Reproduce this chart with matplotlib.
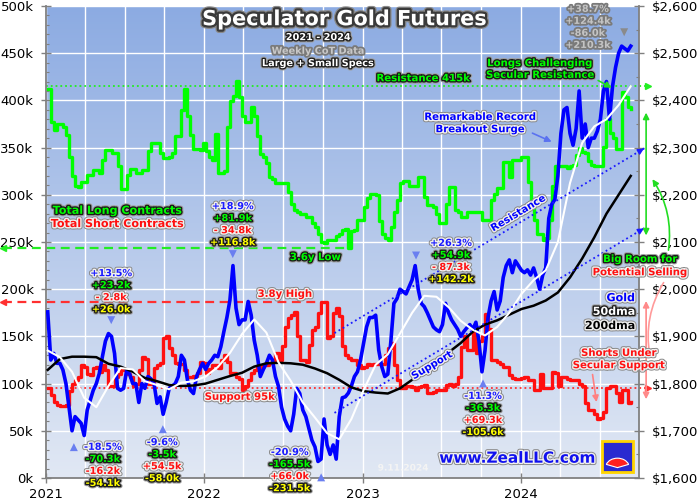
import matplotlib
matplotlib.use("Agg")
import matplotlib.pyplot as plt
import matplotlib.patheffects as pe
import matplotlib.ticker as mticker
import matplotlib.dates as mdates
from matplotlib.colors import LinearSegmentedColormap
from matplotlib.patches import Rectangle, Wedge
import numpy as np
import pandas as pd

# weekly CoT readings (Tuesdays), thousands of contracts
first_week = "2021-01-05"
longs_k = [
    412, 377, 369, 375, 375, 372, 363, 340, 320, 309,
    308, 314, 314, 321, 321, 326, 326, 323, 337, 347,
    347, 344, 344, 330, 306, 306, 321, 327, 327, 323,
    323, 326, 326, 346, 355, 355, 355, 344, 339, 339,
    340, 344, 362, 362, 390, 412, 383, 363, 348, 348,
    347, 355, 346, 340, 337, 364, 323, 323, 325, 372,
    399, 405, 421, 404, 383, 377, 377, 393, 383, 362,
    343, 340, 334, 319, 317, 313, 312, 312, 312, 303,
    290, 284, 282, 280, 280, 277, 277, 270, 266, 259,
    250, 249, 252, 252, 252, 256, 259, 263, 264, 244,
    262, 263, 273, 273, 287, 297, 301, 301, 300, 272,
    259, 254, 252, 266, 282, 295, 312, 315, 315, 309,
    309, 309, 319, 319, 298, 289, 289, 287, 280, 270,
    270, 290, 308, 308, 284, 282, 277, 277, 282, 282,
    282, 282, 282, 273, 273, 273, 294, 301, 307, 307,
    335, 335, 319, 337, 337, 337, 340, 340, 314, 290,
    273, 259, 259, 252, 254, 273, 309, 331, 330, 330,
    330, 328, 330, 332, 342, 350, 345, 344, 336, 332,
    330, 330, 330, 351, 380, 365, 360, 349, 349, 409,
    404, 393, 391,
]
shorts_k = [
    95, 88, 80, 77, 76, 76, 77, 92, 100, 104,
    107, 120, 118, 110, 109, 116, 118, 112, 120, 114,
    97, 97, 107, 110, 114, 114, 110, 107, 97, 100,
    114, 128, 126, 100, 100, 116, 120, 122, 148, 150,
    138, 130, 122, 121, 121, 114, 107, 107, 108, 111,
    123, 122, 111, 115, 120, 120, 117, 125, 130, 123,
    111, 111, 107, 105, 93, 97, 104, 111, 114, 118,
    116, 120, 120, 122, 125, 132, 125, 140, 160, 170,
    173, 176, 150, 125, 125, 123, 141, 157, 160, 175,
    186, 186, 148, 150, 175, 180, 172, 140, 130, 127,
    125, 125, 120, 116, 118, 121, 120, 121, 121, 121,
    121, 130, 138, 143, 120, 104, 95, 95, 97, 97,
    96, 93, 96, 97, 98, 90, 90, 91, 93, 93,
    93, 98, 100, 97, 100, 107, 139, 150, 136, 136,
    157, 132, 145, 150, 174, 158, 125, 125, 123, 121,
    118, 118, 109, 106, 105, 105, 106, 107, 104, 104,
    93, 93, 110, 95, 95, 95, 112, 111, 97, 107,
    107, 105, 104, 104, 104, 100, 97, 79, 72, 72,
    68, 63, 64, 70, 95, 97, 97, 90, 81, 93,
    93, 79, 80,
]
# gold futures near each CoT date
gold = [
    1952, 1850, 1864, 1843, 1843, 1829, 1800, 1750, 1700, 1730,
    1723, 1716, 1690, 1744, 1765, 1786, 1800, 1822, 1857, 1890,
    1906, 1900, 1864, 1790, 1786, 1790, 1829, 1820, 1800, 1800,
    1760, 1800, 1790, 1815, 1810, 1800, 1758, 1772, 1735, 1760,
    1790, 1795, 1800, 1815, 1860, 1850, 1808, 1786, 1779, 1815,
    1830, 1843, 1830, 1843, 1850, 1860, 1857, 1878, 1910, 1940,
    1977, 2050, 1960, 1925, 1935, 1935, 1974, 1945, 1892, 1860,
    1815, 1830, 1843, 1860, 1850, 1815, 1794, 1750, 1725, 1710,
    1700, 1735, 1790, 1779, 1744, 1730, 1705, 1680, 1666, 1635,
    1640, 1725, 1670, 1650, 1670, 1640, 1730, 1770, 1772, 1780,
    1795, 1815, 1825, 1850, 1885, 1920, 1940, 1940, 1945, 1871,
    1836, 1815, 1820, 1890, 1970, 1980, 2000, 1995, 1990, 2005,
    2020, 2050, 2000, 1970, 1963, 1950, 1935, 1920, 1914, 1910,
    1925, 1970, 1950, 1935, 1925, 1915, 1900, 1910, 1918, 1925,
    1915, 1930, 1890, 1825, 1870, 1940, 1975, 1995, 1956, 1975,
    2025, 2050, 2062, 2035, 2060, 2050, 2040, 2035, 2041, 2030,
    2045, 2025, 2000, 2030, 2045, 2150, 2180, 2190, 2240, 2330,
    2380, 2385, 2330, 2305, 2340, 2420, 2320, 2350, 2300, 2320,
    2320, 2335, 2360, 2420, 2440, 2360, 2430, 2470, 2500, 2515,
    2510, 2505, 2515,
]
# moving averages read every 4th week
ma_step = 4
gold_50dma = [
    1870, 1856, 1825, 1770, 1750, 1795, 1833, 1830, 1805, 1797,
    1788, 1802, 1805, 1815, 1835, 1865, 1905, 1936, 1908, 1845,
    1806, 1760, 1728, 1695, 1682, 1725, 1786, 1840, 1862, 1906,
    1950, 1986, 1984, 1962, 1933, 1914, 1902, 1920, 1950, 1990,
    2019, 2040, 2100, 2225, 2310, 2345, 2360, 2390, 2430,
]
gold_200dma = [
    1829, 1852, 1857, 1857, 1856, 1842, 1836, 1825, 1812, 1805,
    1797, 1795, 1796, 1800, 1808, 1816, 1823, 1836, 1843, 1844,
    1843, 1840, 1832, 1822, 1808, 1792, 1784, 1781, 1779, 1790,
    1808, 1826, 1847, 1866, 1886, 1910, 1925, 1934, 1946, 1958,
    1965, 1976, 1993, 2025, 2065, 2110, 2160, 2200, 2240,
]

resistance_k = 415
support_k = 95
channel_dates = ["2022-10-28", "2024-10-16"]
channel_upper = [1907, 2301]
channel_lower = [1738, 2132]

weeks = pd.date_range(first_week, periods=len(longs_k), freq="7D")
ma_weeks = weeks[::ma_step]

GREEN = "#00ff00"
RED = "#ff1010"
BLUE = "#0000ff"
MARK = "#6a7ff0"

DARK = [pe.Stroke(linewidth=3.4, foreground="#a0a0a0"),
        pe.Stroke(linewidth=1.9, foreground="#1a1a1a"), pe.Normal()]
LIGHT = [pe.Stroke(linewidth=3.4, foreground="#8a8a8a"),
         pe.Stroke(linewidth=2.0, foreground="#f0f0f0"), pe.Normal()]
GRAY = [pe.Stroke(linewidth=2.6, foreground="#7a7a7a"), pe.Normal()]
TITLE = [pe.Stroke(linewidth=5, foreground="#8a8a8a"),
         pe.Stroke(linewidth=3.2, foreground="#3a3a3a"), pe.Normal()]

fig = plt.figure(figsize=(7, 5), dpi=100)
ax = fig.add_axes([46 / 700, 22 / 500, 593 / 700, 472 / 500])
ax2 = ax.twinx()

# contracts
ax.plot(weeks, longs_k, drawstyle="steps-post", color=GREEN, lw=2.4, zorder=3)
ax.plot(weeks, shorts_k, drawstyle="steps-post", color=RED, lw=2.4, zorder=3)

# gold and its moving averages
ax2.plot(weeks, gold, color=BLUE, lw=2.6, zorder=3)
ax2.plot(ma_weeks, gold_200dma, color="black", lw=1.8, zorder=4)
ax2.plot(ma_weeks, gold_50dma, color="white", lw=1.5, zorder=4)

# reference lines
x_start = pd.Timestamp("2021-01-01")
x_end = pd.Timestamp("2024-09-29")
left_out = pd.Timestamp("2020-09-24")
right_out = pd.Timestamp("2024-10-19")

low_i = int(np.argmin(longs_k))
high_i = int(np.argmax(shorts_k))
ax.plot([left_out, weeks[low_i]], [longs_k[low_i]] * 2, ls=(0, (4, 2.5)),
        color="#22ee22", lw=1.6, clip_on=False, zorder=2)
ax.plot([left_out], [longs_k[low_i]], marker="<", ms=5, color="#22ee22",
        clip_on=False, zorder=2)
ax.plot([left_out, weeks[high_i]], [shorts_k[high_i]] * 2, ls=(0, (4, 2.5)),
        color="#ff3030", lw=1.6, clip_on=False, zorder=2)
ax.plot([left_out], [shorts_k[high_i]], marker="<", ms=5, color="#ff3030",
        clip_on=False, zorder=2)

ax.plot([x_start, right_out], [resistance_k] * 2, ls=":", color="#22ee22",
        lw=1.3, clip_on=False, zorder=2)
ax.plot([right_out], [resistance_k], marker=">", ms=5, color="#22ee22",
        clip_on=False, zorder=2)
ax.plot([x_start, right_out], [support_k] * 2, ls=":", color="#ff3030",
        lw=1.3, clip_on=False, zorder=2)
ax.plot([right_out], [support_k], marker=">", ms=5, color="#ff3030",
        clip_on=False, zorder=2)

# gold trend channel
cd = mdates.date2num(pd.to_datetime(channel_dates))
for chan in (channel_upper, channel_lower):
    ax2.plot(cd, chan, ls=":", color="#1a1aff", lw=1.3, clip_on=False, zorder=5)
    slope = (chan[1] - chan[0]) / (cd[1] - cd[0])
    ax2.annotate("", xy=(cd[1], chan[1]), xytext=(cd[1] - 20, chan[1] - 20 * slope),
                 arrowprops=dict(arrowstyle="-|>", color="#1a1aff", lw=1,
                                 mutation_scale=9),
                 annotation_clip=False, zorder=5)

# background gradient
grad = np.linspace(0, 1, 256).reshape(-1, 1)
cmap = LinearSegmentedColormap.from_list("bg", ["#e1e8f4", "#8cabe2"])
ax.imshow(grad, extent=[0, 1, 0, 1], transform=ax.transAxes, origin="lower",
          cmap=cmap, aspect="auto", zorder=0)

ax.set_xlim(x_start, x_end)
ax.set_ylim(0, 500)
ax2.set_ylim(1600, 2600)

# axes styling
ax.set_axisbelow(True)
ax.xaxis.set_major_locator(mdates.YearLocator())
ax.xaxis.set_major_formatter(mdates.DateFormatter("%Y"))
ax.xaxis.set_minor_locator(mdates.MonthLocator(bymonth=[4, 7, 10]))
ax.yaxis.set_major_locator(mticker.MultipleLocator(50))
ax.yaxis.set_minor_locator(mticker.MultipleLocator(10))
ax.yaxis.set_major_formatter(mticker.FuncFormatter(lambda v, p: f"{v:.0f}k"))
ax2.yaxis.set_major_locator(mticker.MultipleLocator(100))
ax2.yaxis.set_minor_locator(mticker.MultipleLocator(50))
ax2.yaxis.set_major_formatter(mticker.FuncFormatter(lambda v, p: f"${v:,.0f}"))

ax.grid(True, which="major", color="white", lw=1)
ax.grid(True, which="minor", axis="x", color="white", lw=1)

for a in (ax, ax2):
    a.tick_params(which="major", direction="inout", length=7, width=1,
                  color="#808080", labelsize=9.5)
    a.tick_params(which="minor", direction="in", length=2.5, width=0.8,
                  color="#808080")
ax.tick_params(axis="y", pad=5.5)
ax.tick_params(axis="x", pad=3.5)
ax.tick_params(axis="x", which="minor", length=0)
ax2.tick_params(axis="y", pad=5.5)

for name, sp in ax.spines.items():
    sp.set_visible(name in ("left", "bottom"))
    sp.set_color("#808080")
    sp.set_linewidth(1.3)
for name, sp in ax2.spines.items():
    sp.set_visible(name == "right")
    sp.set_color("#808080")
    sp.set_linewidth(1.3)


def note(x, y, s, color, size=7.3, edge=LIGHT, **kw):
    kw.setdefault("ha", "center")
    ax2.text(x, y, s, transform=ax.transAxes, color=color, fontsize=size,
             fontweight="bold", va="center", path_effects=edge, zorder=20, **kw)


def arrow(xy, xytext, color, style="-|>", rad=0.0, lw=1.2):
    ax2.annotate("", xy=xy, xytext=xytext, xycoords=ax.transAxes,
                 textcoords=ax.transAxes, annotation_clip=False, zorder=19,
                 arrowprops=dict(arrowstyle=style, color=color, lw=lw,
                                 mutation_scale=9,
                                 connectionstyle=f"arc3,rad={rad}"))


# title block
note(0.504, 0.972, "Speculator Gold Futures", "white", size=15, edge=TITLE)
note(0.459, 0.934, "2021 - 2024", "white", size=7, edge=DARK)
note(0.459, 0.905, "Weekly CoT Data", "#c8c8c8", size=7, edge=GRAY)
note(0.459, 0.879, "Large + Small Specs", "white", size=7, edge=DARK)

note(0.120, 0.566, "Total Long Contracts", GREEN, size=8, edge=DARK)
note(0.120, 0.538, "Total Short Contracts", RED, size=8, edge=LIGHT)

note(0.636, 0.847, "Resistance 415k", GREEN, edge=DARK)
note(0.833, 0.879, "Longs Challenging", GREEN, edge=DARK)
note(0.833, 0.854, "Secular Resistance", GREEN, edge=DARK)
arrow((0.958, 0.824), (0.927, 0.845), "#22dd22")
note(0.732, 0.765, "Remarkable Record", BLUE)
note(0.732, 0.739, "Breakout Surge", BLUE)
arrow((0.857, 0.710), (0.816, 0.733), "#5a72f0")

note(0.454, 0.468, "3.6y Low", GREEN, edge=DARK)
note(0.403, 0.390, "3.8y High", RED)
note(0.327, 0.172, "Support 95k", RED)
note(0.796, 0.561, "Resistance", BLUE, rotation=31, rotation_mode="anchor")
note(0.651, 0.239, "Support", BLUE, rotation=31, rotation_mode="anchor")

note(1.002, 0.464, "Big Room for", GREEN, edge=DARK)
note(1.002, 0.436, "Potential Selling", RED)
note(0.993, 0.381, "Gold", BLUE, size=8, ha="right")
note(0.993, 0.352, "50dma", "white", size=8, edge=DARK, ha="right")
note(0.993, 0.322, "200dma", "black", size=8, ha="right")
note(0.966, 0.265, "Shorts Under", RED)
note(0.966, 0.239, "Secular Support", RED)
arrow((0.929, 0.155), (0.921, 0.225), "#ff8080")

arrow((1.012, 0.780), (1.012, 0.508), "#22dd22", style="<|-|>")
arrow((1.012, 0.381), (1.012, 0.161), "#ff8a8a", style="<|-|>")
arrow((1.020, 0.638), (1.049, 0.477), "#22dd22", rad=0.2)
arrow((1.019, 0.254), (1.044, 0.419), "#ff9a9a", style="-", rad=0.2)

# move annotations: % gold, longs, shorts, net
blocks = [
    (0.315, 0.576, 0.315, 0.475, "\u25BC", ["+18.9%", "+81.9k", "- 34.8k", "+116.8k"]),
    (0.110, 0.434, 0.110, 0.335, "\u25BC", ["+13.5%", "+23.2k", "- 2.8k", "+26.0k"]),
    (0.096, 0.066, 0.047, 0.066, "\u25B2", ["-18.5%", "-70.3k", "-16.2k", "-54.1k"]),
    (0.196, 0.076, 0.197, 0.104, "\u25B2", ["-9.6%", "-3.5k", "+54.5k", "-58.0k"]),
    (0.411, 0.055, 0.464, 0.002, "\u25B2", ["-20.9%", "-165.5k", "+66.0k", "-231.5k"]),
    (0.683, 0.498, 0.624, 0.472, "\u25BC", ["+26.3%", "+54.9k", "- 87.3k", "+142.2k"]),
    (0.737, 0.174, 0.737, 0.201, "\u25B2", ["-11.3%", "-36.3k", "+69.3k", "-105.6k"]),
]
row_colors = [("#1a1aff", LIGHT), (GREEN, DARK), (RED, LIGHT), ("#ffff00", DARK)]
for bx, by, mx, my, mk, rows in blocks:
    for i, s in enumerate(rows):
        c, e = row_colors[i]
        note(bx, by - 0.0255 * i, s, c, size=7, edge=e)
    note(mx, my, mk, MARK, size=7.5, edge=[pe.Normal()])

for i, s in enumerate(["+38.7%", "+124.4k", "-86.0k", "+210.3k"]):
    note(0.914, 0.994 - 0.0255 * i, s, "#c4c4c4", size=7, edge=GRAY)
note(0.975, 0.945, "\u25BC", "#8a8a8a", size=7.5, edge=[pe.Normal()])

# footer
note(0.794, 0.042, "www.ZealLLC.com", "#1010ee", size=11, edge=LIGHT)
note(0.602, 0.021, "9.11.2024", "#f4f4f4", size=6.5, edge=[pe.Normal()])
ax2.add_patch(Rectangle((0.9376, 0.0127), 0.0523, 0.0657, transform=ax.transAxes,
                        facecolor="#2a2ad0", edgecolor="#ffd400", lw=2,
                        zorder=20, clip_on=False))
ax2.add_patch(Wedge((0.9637, 0.022), 0.02, 20, 160, transform=ax.transAxes,
                    facecolor="#ff2020", edgecolor="white", lw=0.8,
                    zorder=21, clip_on=False))

fig.savefig("out.png", dpi=100)
